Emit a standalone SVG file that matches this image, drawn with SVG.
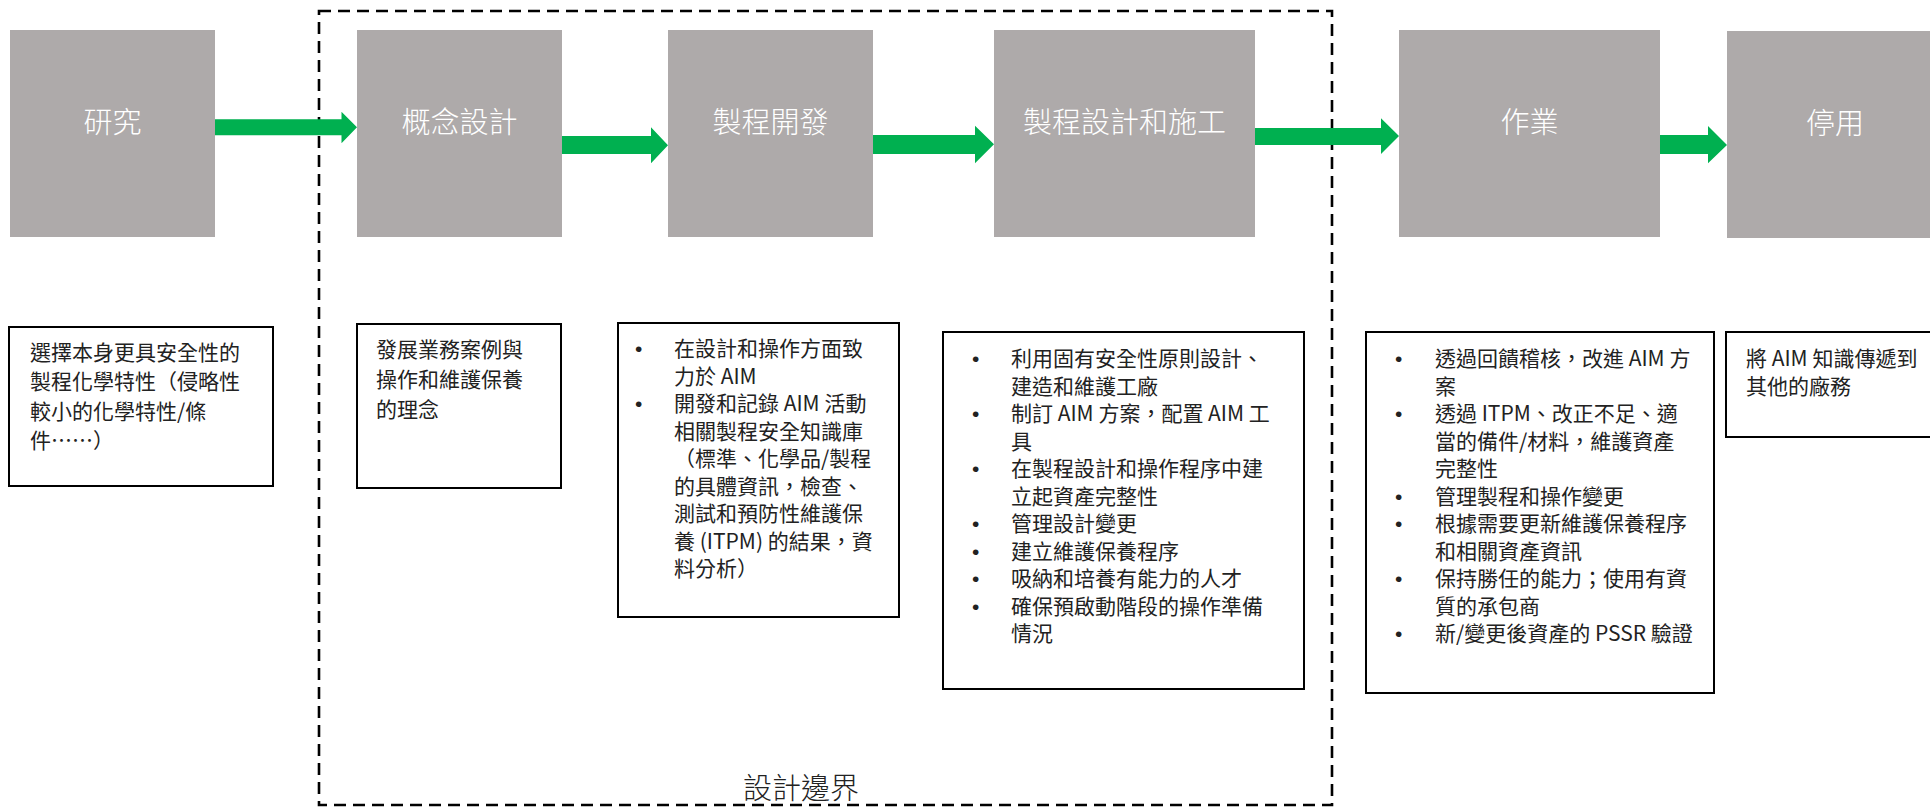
<svg xmlns="http://www.w3.org/2000/svg" width="1930" height="808" viewBox="0 0 1930 808">
<style>
.stage{fill:#AEAAAA;}
.stxt{fill:#FFFFFF;font-family:"Noto Sans CJK TC","Noto Sans CJK SC",sans-serif;font-size:29px;font-weight:300;text-anchor:middle;}
.box{fill:#FFFFFF;stroke:#000000;stroke-width:2;}
.btxt{fill:#222222;font-family:"Noto Sans CJK TC","Noto Sans CJK SC",sans-serif;font-size:21px;font-weight:400;}
.bul{fill:#222222;font-family:"Liberation Sans",Arial,sans-serif;font-size:21px;}
.arrow{fill:#00B050;}
.boundary{fill:none;stroke:#000000;stroke-width:2.6;stroke-dasharray:12 7;}
.blabel{fill:#222222;font-family:"Noto Sans CJK TC","Noto Sans CJK SC",sans-serif;font-size:29px;font-weight:300;text-anchor:middle;}
</style>

<g id="design-boundary">
<rect class="boundary" x="319" y="11" width="1013" height="794"/>
<text class="blabel" x="801" y="799">設計邊界</text>
</g>

<g id="connectors">
<polygon class="arrow" points="214,119.3 341.5,119.3 341.5,111.7 357,127.3 341.5,143.3 341.5,135.3 214,135.3"/>
<polygon class="arrow" points="561,136 651,136 651,127.3 668,145.3 651,163.3 651,154 561,154"/>
<polygon class="arrow" points="872,135 975,135 975,125.7 994,144.3 975,163.3 975,154 872,154"/>
<polygon class="arrow" points="1254,128 1381,128 1381,118.3 1399,136 1381,154 1381,145 1254,145"/>
<polygon class="arrow" points="1659,135 1708,135 1708,126 1727,145 1708,163.3 1708,154 1659,154"/>
</g>

<g id="stage-research">
<rect class="stage" x="10" y="30" width="205" height="207"/>
<text class="stxt" x="112.5" y="133">研究</text>
</g>
<g id="stage-concept">
<rect class="stage" x="357" y="30" width="205" height="207"/>
<text class="stxt" x="459.5" y="133">概念設計</text>
</g>
<g id="stage-process-dev">
<rect class="stage" x="668" y="30" width="205" height="207"/>
<text class="stxt" x="770.5" y="133">製程開發</text>
</g>
<g id="stage-process-design">
<rect class="stage" x="994" y="30" width="261" height="207"/>
<text class="stxt" x="1124.5" y="133">製程設計和施工</text>
</g>
<g id="stage-operation">
<rect class="stage" x="1399" y="30" width="261" height="207"/>
<text class="stxt" x="1529.5" y="133">作業</text>
</g>
<g id="stage-decommission">
<rect class="stage" x="1727" y="31" width="216" height="207"/>
<text class="stxt" x="1835" y="134">停用</text>
</g>

<g id="note-research">
<rect class="box" x="9" y="327" width="264" height="159"/>
<text class="btxt">
<tspan x="30" y="359.5">選擇本身更具安全性的</tspan>
<tspan x="30" y="389">製程化學特性（侵略性</tspan>
<tspan x="30" y="418.5">較小的化學特性/條</tspan>
<tspan x="30" y="448">件……）</tspan>
</text>
</g>

<g id="note-concept">
<rect class="box" x="357" y="324" width="204" height="164"/>
<text class="btxt">
<tspan x="376" y="356.5">發展業務案例與</tspan>
<tspan x="376" y="386.5">操作和維護保養</tspan>
<tspan x="376" y="416.5">的理念</tspan>
</text>
</g>

<g id="note-process-dev">
<rect class="box" x="618" y="323" width="281" height="294"/>
<text class="bul">
<tspan x="635" y="356.3">•</tspan>
<tspan x="635" y="411.3">•</tspan>
</text>
<text class="btxt">
<tspan x="674" y="356.3">在設計和操作方面致</tspan>
<tspan x="674" y="383.8">力於 AIM</tspan>
<tspan x="674" y="411.3">開發和記錄 AIM 活動</tspan>
<tspan x="674" y="438.8">相關製程安全知識庫</tspan>
<tspan x="674" y="466.3">（標準、化學品/製程</tspan>
<tspan x="674" y="493.8">的具體資訊，檢查、</tspan>
<tspan x="674" y="521.3">測試和預防性維護保</tspan>
<tspan x="674" y="548.8">養 (ITPM) 的結果，資</tspan>
<tspan x="674" y="576.3">料分析）</tspan>
</text>
</g>

<g id="note-process-design">
<rect class="box" x="943" y="332" width="361" height="357"/>
<text class="bul">
<tspan x="972" y="366.3">•</tspan>
<tspan x="972" y="421.3">•</tspan>
<tspan x="972" y="476.3">•</tspan>
<tspan x="972" y="531.3">•</tspan>
<tspan x="972" y="558.8">•</tspan>
<tspan x="972" y="586.3">•</tspan>
<tspan x="972" y="613.8">•</tspan>
</text>
<text class="btxt">
<tspan x="1011" y="366.3">利用固有安全性原則設計、</tspan>
<tspan x="1011" y="393.8">建造和維護工廠</tspan>
<tspan x="1011" y="421.3">制訂 AIM 方案，配置 AIM 工</tspan>
<tspan x="1011" y="448.8">具</tspan>
<tspan x="1011" y="476.3">在製程設計和操作程序中建</tspan>
<tspan x="1011" y="503.8">立起資產完整性</tspan>
<tspan x="1011" y="531.3">管理設計變更</tspan>
<tspan x="1011" y="558.8">建立維護保養程序</tspan>
<tspan x="1011" y="586.3">吸納和培養有能力的人才</tspan>
<tspan x="1011" y="613.8">確保預啟動階段的操作準備</tspan>
<tspan x="1011" y="641.3">情況</tspan>
</text>
</g>

<g id="note-operation">
<rect class="box" x="1366" y="332" width="348" height="361"/>
<text class="bul">
<tspan x="1395" y="366.3">•</tspan>
<tspan x="1395" y="421.3">•</tspan>
<tspan x="1395" y="503.8">•</tspan>
<tspan x="1395" y="531.3">•</tspan>
<tspan x="1395" y="586.3">•</tspan>
<tspan x="1395" y="641.3">•</tspan>
</text>
<text class="btxt">
<tspan x="1435" y="366.3">透過回饋稽核，改進 AIM 方</tspan>
<tspan x="1435" y="393.8">案</tspan>
<tspan x="1435" y="421.3">透過 ITPM、改正不足、適</tspan>
<tspan x="1435" y="448.8">當的備件/材料，維護資產</tspan>
<tspan x="1435" y="476.3">完整性</tspan>
<tspan x="1435" y="503.8">管理製程和操作變更</tspan>
<tspan x="1435" y="531.3">根據需要更新維護保養程序</tspan>
<tspan x="1435" y="558.8">和相關資產資訊</tspan>
<tspan x="1435" y="586.3">保持勝任的能力；使用有資</tspan>
<tspan x="1435" y="613.8">質的承包商</tspan>
<tspan x="1435" y="641.3">新/變更後資產的 PSSR 驗證</tspan>
</text>
</g>

<g id="note-decommission">
<rect class="box" x="1726" y="332" width="220" height="105"/>
<text class="btxt">
<tspan x="1746" y="366.3">將 AIM 知識傳遞到</tspan>
<tspan x="1746" y="393.8">其他的廠務</tspan>
</text>
</g>
</svg>
